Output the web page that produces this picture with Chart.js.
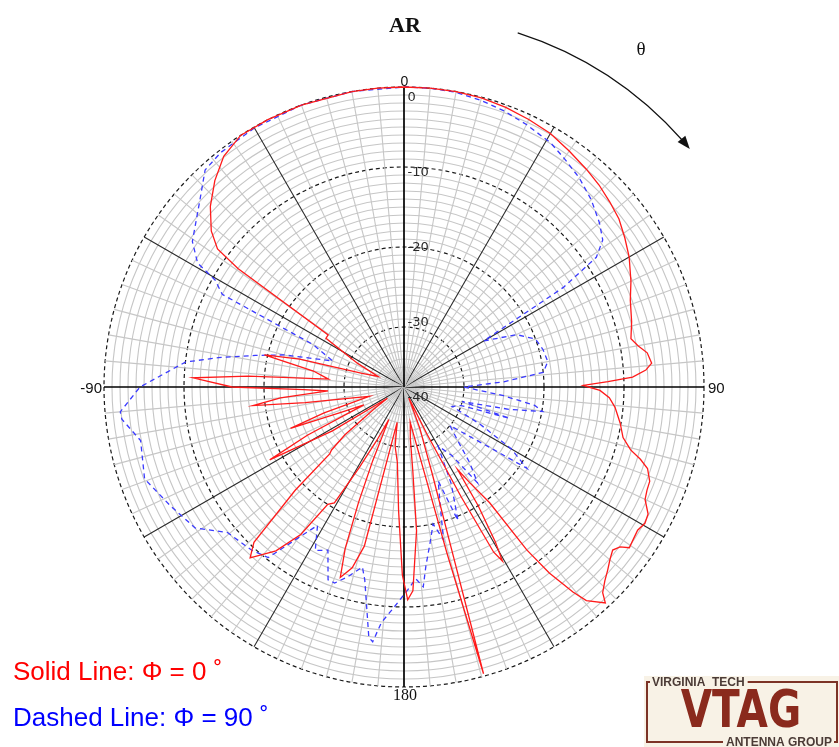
<!DOCTYPE html>
<html>
<head>
<meta charset="utf-8">
<script src="https://cdn.jsdelivr.net/npm/chart.js@4.4.1/dist/chart.umd.min.js"></script>
<style>
  html, body { margin: 0; padding: 0; background: #ffffff; }
  #wrap { width: 839px; height: 747px; position: relative; }
</style>
</head>
<body>
<div id="wrap"><canvas id="c" width="839" height="747"></canvas></div>
<script>
// Axial ratio (dB) versus theta (degrees, clockwise from the top)
// Solid trace: phi = 0 cut
const solidAngles = [
  0, 5, 10, 15, 20, 25, 30, 35, 40, 44, 48, 52, 56, 60, 65, 69, 74, 78, 80, 82, 84.5, 86, 87.5, 88.5, 89.5,
  91, 93, 95.5, 99.5, 103, 105.5, 107, 108.5, 111, 113, 115, 117.5, 119.5, 121.5, 123.5, 125.5, 126.5, 128,
  130, 132, 134, 136, 137, 139.5, 140.5, 142, 143, 143.5, 145.5, 147, 148, 149.5, 150.5, 151.5, 152.5, 154,
  156, 159, 162, 163.5, 164.5, 165.5, 167, 170, 173, 174, 175, 177.5, 179, 180.5, 182.5, 185, 188.5, 191,
  194, 196, 198.5, 200, 201.5, 203, 205, 207, 209, 211, 213, 215, 218, 222, 224, 226.5, 228, 229, 231, 234,
  236, 238.5, 241.5, 243.5, 246, 248, 250, 252, 255, 258, 261, 263, 265, 267, 268.5, 270, 272.5, 274, 276,
  280, 283, 285, 288, 292, 297, 302, 304.5, 305.5, 306.5, 309, 313, 317.5, 322, 327, 333, 340, 350, 355
];
const solidValues = [
  0, 0, 0, -0.1, -0.3, -0.6, -0.9, -1.5, -2.0, -2.4, -2.9, -3.4, -4.2, -5.0, -6.2, -7.2, -7.9, -8.5, -7.8, -6.8, -6.4, -7.2, -8.9, -12, -15.1,
  -13, -11.8, -11, -10.1, -9.4, -8.1, -6.6, -5.4, -4.6, -4.5, -4.25, -3.1, -2.9, -3.25, -3.1, -2.9, -3.9, -4.4,
  -3.9, -3.25, -2.6, -1.75, -0.6, -2.4, -4.3, -8, -12, -19.5, -23, -25.2, -20, -15, -12.5, -14, -22, -31,
  -36, -32, -26, -18, -0.3, -16, -28, -33, -31, -27, -19.5, -12, -10.9, -14, -22, -28, -30, -33,
  -17, -14, -12.4, -16, -22, -27.5, -33, -30, -26, -20.6, -20, -15, -11.5, -8.75, -10.5, -18.75, -25, -25.5, -28, -33,
  -35, -27, -18.4, -24, -32, -29, -22.4, -27, -33, -31, -25, -18.5, -22, -28, -25, -16, -11.1, -18, -28,
  -26, -19.6, -24, -32, -34, -31, -26, -26, -12, -8.5, -6.5, -4.4, -2.5, -0.9, 0, 0, 0, 0, 0
];

// Dashed trace: phi = 90 cut
const dashedAngles = [
  0, 5, 10, 15, 20, 25, 31, 35, 40, 45, 50, 53.5, 56, 58, 60, 65, 70, 75, 80, 84, 87, 90,
  95, 98, 100, 102, 104, 106.5, 108, 112, 116, 120, 123.5, 125, 130, 135, 139, 142.5, 145, 150, 154, 158,
  160, 163, 165.5, 168, 170.5, 173, 174.5, 176.5, 179, 182.5, 185.5, 187, 188, 191.5, 193, 196.5, 199.5,
  201.5, 205, 208.5, 212, 215.5, 218.5, 223, 230.5, 236, 243, 250.5, 258.5, 263.5, 265, 270, 276.5, 279,
  282, 285, 290, 295, 297, 299.5, 301, 304.5, 312.5, 317.5, 322, 330, 340, 350
];
const dashedValues = [
  0, 0, -0.1, -0.4, -0.8, -1.3, -1.9, -2.6, -3.4, -4.4, -5.6, -6.6, -8.5, -14, -26, -22, -20, -19.5, -19.25, -20, -25, -30,
  -25, -21, -19.9, -24, -30, -23.75, -30, -31, -27, -22, -19.1, -24, -30, -28, -25, -22.4, -27, -29, -24, -19.5,
  -25, -22, -17.75, -20, -17.75, -15, -12.4, -13.5, -12.1, -10, -7.9, -5.4, -5.9, -12.9, -14.4, -12.75, -11.5,
  -11.6, -15, -14.25, -17.1, -14, -10.25, -9.6, -8.9, -6, -4.75, -3.1, -3.9, -2, -1.9, -4.5, -10, -14,
  -18.5, -22, -28, -25, -12, -10.4, -7.4, -5.4, -2.9, -0.7, -0.3, -0.1, 0, 0
];

// Text drawn around the plot
const angleTickLabels = ['0', '90', '180', '-90'];
const angleTickPositions = [0, 90, 180, 270];
const radialTickLabels = ['0', '-10', '-20', '-30', '-40'];
const radialTickValues = [0, -10, -20, -30, -40];

const angleStep = 0.5;                    // degrees per category spoke
const radialMin = -37.5, radialMax = 0;   // dB at the centre / rim

const spokeCount = Math.round(360 / angleStep);
const spokeLabels = Array.from({ length: spokeCount }, (_, i) => String(i * angleStep));

function toSpokes(angles, values) {
  const out = new Array(spokeCount).fill(null);
  angles.forEach((a, k) => {
    const idx = Math.round(a / angleStep) % spokeCount;
    out[idx] = Math.max(radialMin, values[k]);
  });
  return out;
}

const perFive = Math.round(5 / angleStep);
const perThirty = Math.round(30 / angleStep);
const perNinety = Math.round(90 / angleStep);
const isDecade = c => c.tick && Math.abs(c.tick.value % 10) < 1e-6;

const decor = {
  id: 'decor',
  afterDraw(chart) {
    const ctx = chart.ctx;
    const r = chart.scales.r;
    const cx = r.xCenter, cy = r.yCenter, R = r.drawingArea;
    ctx.save();

    // title
    ctx.fillStyle = '#111';
    ctx.font = 'bold 22px "Liberation Serif", serif';
    ctx.textAlign = 'center';
    ctx.textBaseline = 'alphabetic';
    ctx.fillText('AR', 405, 32);

    // theta direction arrow
    const aR = R * 1.24;
    const a0 = (17.8 - 90) * Math.PI / 180;
    const a1 = (48.6 - 90) * Math.PI / 180;
    ctx.strokeStyle = '#111';
    ctx.lineWidth = 1.2;
    ctx.beginPath();
    ctx.arc(cx, cy, aR, a0, a1);
    ctx.stroke();
    const tipA = (50.2 - 90) * Math.PI / 180;
    const tx = cx + aR * Math.cos(tipA), ty = cy + aR * Math.sin(tipA);
    const dir = tipA + Math.PI / 2;
    const hl = 13, hw = 5;
    ctx.fillStyle = '#111';
    ctx.beginPath();
    ctx.moveTo(tx, ty);
    ctx.lineTo(tx - hl * Math.cos(dir) + hw * Math.cos(dir + Math.PI / 2), ty - hl * Math.sin(dir) + hw * Math.sin(dir + Math.PI / 2));
    ctx.lineTo(tx - hl * Math.cos(dir) - hw * Math.cos(dir + Math.PI / 2), ty - hl * Math.sin(dir) - hw * Math.sin(dir + Math.PI / 2));
    ctx.closePath();
    ctx.fill();
    ctx.font = '19px "Liberation Serif", serif';
    ctx.textAlign = 'center';
    ctx.textBaseline = 'middle';
    ctx.fillText('θ', 641, 50);

    // angle labels around the rim
    angleTickLabels.forEach((t, k) => {
      const deg = angleTickPositions[k];
      const idx = Math.round(deg / angleStep);
      ctx.fillStyle = '#111';
      if (deg === 0) {
        ctx.font = '14px "Liberation Sans", sans-serif';
        const p = r.getPointPosition(idx, R + 5);
        ctx.textAlign = 'center'; ctx.textBaseline = 'middle';
        ctx.fillText(t, p.x + 0.5, p.y);
      } else if (deg === 90) {
        ctx.font = '15px "Liberation Sans", sans-serif';
        const p = r.getPointPosition(idx, R + 4);
        ctx.textAlign = 'left'; ctx.textBaseline = 'middle';
        ctx.fillText(t, p.x, p.y + 2);
      } else if (deg === 180) {
        ctx.font = '16px "Liberation Serif", serif';
        const p = r.getPointPosition(idx, R + 9);
        ctx.textAlign = 'center'; ctx.textBaseline = 'middle';
        ctx.fillText(t, p.x + 1, p.y);
      } else {
        ctx.font = '15px "Liberation Sans", sans-serif';
        const p = r.getPointPosition(idx, R + 2);
        ctx.textAlign = 'right'; ctx.textBaseline = 'middle';
        ctx.fillText(t, p.x, p.y + 2);
      }
    });

    // radial tick labels along the upper axis
    ctx.font = '13px "DejaVu Sans", sans-serif';
    ctx.fillStyle = '#2a2a2a';
    ctx.textAlign = 'left';
    ctx.textBaseline = 'middle';
    radialTickLabels.forEach((t, k) => {
      const v = radialTickValues[k];
      const y = cy + 11 - (v + 40) * (R / 40);
      ctx.fillText(t, cx + 3.5, y);
    });

    // legend text
    ctx.font = '26px "Liberation Sans", Arial, sans-serif';
    ctx.textAlign = 'left';
    ctx.textBaseline = 'middle';
    ctx.fillStyle = '#ff0000';
    ctx.fillText('Solid Line: Φ = 0 ˚', 13, 673);
    ctx.fillStyle = '#0000ff';
    ctx.fillText('Dashed Line: Φ = 90 ˚', 13, 719);

    // group logo
    const lx = 647, ly = 682, lw = 190, lh = 60;
    ctx.fillStyle = '#f8f2e6';
    ctx.fillRect(lx - 3, ly - 6, lw + 6, lh + 11);
    ctx.strokeStyle = '#7c3326';
    ctx.lineWidth = 2;
    ctx.strokeRect(lx, ly, lw, lh);
    ctx.font = 'bold 12px "Liberation Sans", sans-serif';
    ctx.textBaseline = 'middle';
    ctx.textAlign = 'left';
    const vt = 'VIRGINIA  TECH';
    const vtw = ctx.measureText(vt).width;
    ctx.fillStyle = '#f8f2e6';
    ctx.fillRect(lx + 3, ly - 6, vtw + 5, 13);
    ctx.fillStyle = '#4b3b36';
    ctx.fillText(vt, lx + 5, ly + 1);
    const ag = 'ANTENNA GROUP';
    const agw = ctx.measureText(ag).width;
    ctx.fillStyle = '#f8f2e6';
    ctx.fillRect(lx + lw - agw - 8, ly + lh - 6, agw + 5, 13);
    ctx.fillStyle = '#4b3b36';
    ctx.fillText(ag, lx + lw - agw - 5, ly + lh + 1);
    ctx.save();
    ctx.translate(741, 727);
    ctx.scale(0.78, 1);
    ctx.font = 'bold 52px "DejaVu Sans", sans-serif';
    ctx.textAlign = 'center';
    ctx.textBaseline = 'alphabetic';
    ctx.fillStyle = '#8a2a1d';
    ctx.fillText('VTAG', 0, 0);
    ctx.restore();

    ctx.restore();
  }
};

new Chart(document.getElementById('c'), {
  type: 'radar',
  data: {
    labels: spokeLabels,
    datasets: [
      {
        label: 'Solid Line: Φ = 0˚',
        data: toSpokes(solidAngles, solidValues),
        borderColor: '#ff1a1a',
        borderWidth: 1.3,
        fill: false,
        pointRadius: 0,
        spanGaps: true,
        tension: 0
      },
      {
        label: 'Dashed Line: Φ = 90˚',
        data: toSpokes(dashedAngles, dashedValues),
        borderColor: '#3a3aff',
        borderWidth: 1.3,
        borderDash: [5, 4],
        fill: false,
        pointRadius: 0,
        spanGaps: true,
        tension: 0
      }
    ]
  },
  options: {
    responsive: false,
    animation: false,
    events: [],
    layout: { padding: { left: 104, right: 135, top: 87, bottom: 60 } },
    plugins: { legend: { display: false }, tooltip: { enabled: false }, title: { display: false } },
    scales: {
      r: {
        min: radialMin,
        max: radialMax,
        startAngle: 0,
        ticks: { display: false, stepSize: 1 },
        pointLabels: { display: false },
        grid: {
          circular: true,
          color: c => isDecade(c) ? '#1a1a1a' : '#c6c6c6',
          lineWidth: c => isDecade(c) ? 1.2 : 1.1
        },
        border: {
          dash: c => isDecade(c) ? [4, 3] : []
        },
        angleLines: {
          color: c => {
            if (c.index % perNinety === 0) return '#000';
            if (c.index % perThirty === 0) return '#2a2a2a';
            if (c.index % perFive === 0) return '#c6c6c6';
            return 'rgba(0,0,0,0)';
          },
          lineWidth: c => {
            if (c.index % perNinety === 0) return 1.7;
            if (c.index % perThirty === 0) return 1.1;
            if (c.index % perFive === 0) return 1.1;
            return 0;
          }
        }
      }
    }
  },
  plugins: [decor]
});
</script>
</body>
</html>
